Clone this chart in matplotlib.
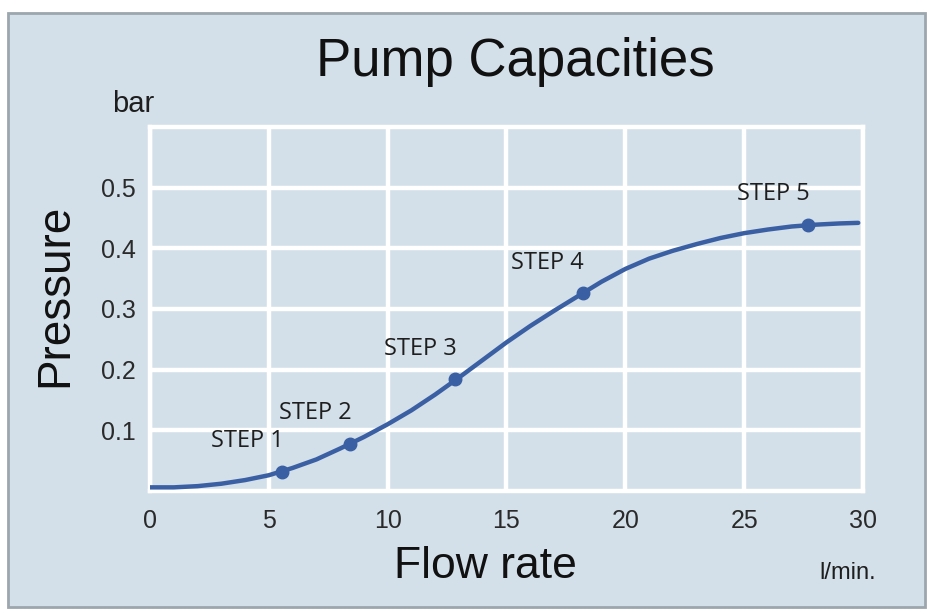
import matplotlib
matplotlib.use("Agg")
import matplotlib.pyplot as plt
from matplotlib.patches import Rectangle

# ---- data ----
flow = [0, 1, 2, 3, 4, 5, 6, 7, 8, 9, 10, 11, 12, 13, 14, 15, 16, 17, 18, 19,
        20, 21, 22, 23, 24, 25, 26, 27, 28, 29, 29.8]
pressure = [0.006, 0.006, 0.008, 0.012, 0.018, 0.026, 0.038, 0.052, 0.070, 0.089,
            0.110, 0.133, 0.159, 0.187, 0.216, 0.245, 0.272, 0.297, 0.321, 0.345,
            0.366, 0.383, 0.396, 0.407, 0.417, 0.425, 0.431, 0.436, 0.439, 0.441, 0.442]

step_labels = ["STEP 1", "STEP 2", "STEP 3", "STEP 4", "STEP 5"]
step_flow = [5.55, 8.4, 12.85, 18.2, 27.7]
step_pressure = [0.032, 0.078, 0.184, 0.326, 0.439]

x_ticks = [0, 5, 10, 15, 20, 25, 30]
y_ticks = [0.1, 0.2, 0.3, 0.4, 0.5]
y_tick_labels = ["0.1", "0.2", "0.3", "0.4", "0.5"]

# ---- styling ----
BG = "#d3e0e9"
LINE = "#3a5fa3"
TXT = "#1e1e1e"
SANS = ["Liberation Sans", "DejaVu Sans"]

fig = plt.figure(figsize=(9.28, 6.13), dpi=100, facecolor="white")
panel = Rectangle((8 / 928, 1 - 607 / 613), (925 - 8) / 928, (607 - 13) / 613,
                  transform=fig.transFigure, facecolor=BG, edgecolor="#9ba6ad",
                  linewidth=2.0, zorder=-10)
fig.patches.append(panel)

ax = fig.add_axes([150 / 928, 1 - 491 / 613, (863 - 150) / 928, (491 - 127) / 613])
ax.set_zorder(2)
ax.set_facecolor(BG)
ax.set_xlim(0, 30)
ax.set_ylim(0, 0.6)

ax.set_xticks(x_ticks)
ax.set_xticklabels([str(v) for v in x_ticks], fontsize=18, color="#2a2a2a",
                   fontfamily=SANS)
ax.set_yticks(y_ticks)
ax.set_yticklabels(y_tick_labels, fontsize=18, color="#2a2a2a", fontfamily=SANS)
ax.tick_params(axis="both", length=0)
ax.tick_params(axis="x", pad=13)
ax.tick_params(axis="y", pad=10)

ax.grid(True, color="white", linewidth=3.2)
ax.set_axisbelow(True)
for s in ax.spines.values():
    s.set_color("white")
    s.set_linewidth(3.2)
    s.set_zorder(1)

ax.plot(flow, pressure, color=LINE, linewidth=3.2, solid_capstyle="round", zorder=3)
ax.plot(step_flow, step_pressure, "o", color=LINE, markersize=9, zorder=4)

for lab, fx, py in zip(step_labels, step_flow, step_pressure):
    ax.annotate(lab, (fx, py), xytext=(-25, 22), textcoords="offset points",
                ha="center", va="center", fontsize=17, color=TXT,
                fontfamily=["Open Sans", "DejaVu Sans"], zorder=5)

# titles and labels
fig.text(515 / 928, 1 - 62 / 613, "Pump Capacities", ha="center", va="center",
         fontsize=38, color="#111111", fontfamily=SANS)
fig.text(133 / 928, 1 - 104 / 613, "bar", ha="center", va="center",
         fontsize=21, color=TXT, fontfamily=SANS)
fig.text(55 / 928, 1 - 295 / 613, "Pressure", ha="center", va="center",
         rotation=90, fontsize=33, color="#111111", fontfamily=SANS)
fig.text(485 / 928, 1 - 567 / 613, "Flow rate", ha="center", va="center",
         fontsize=32, color="#111111", fontfamily=SANS)
fig.text(848 / 928, 1 - 573 / 613, "l/min.", ha="center", va="center",
         fontsize=17, color=TXT, fontfamily=SANS)

fig.savefig("out.png", dpi=100, facecolor="white")
